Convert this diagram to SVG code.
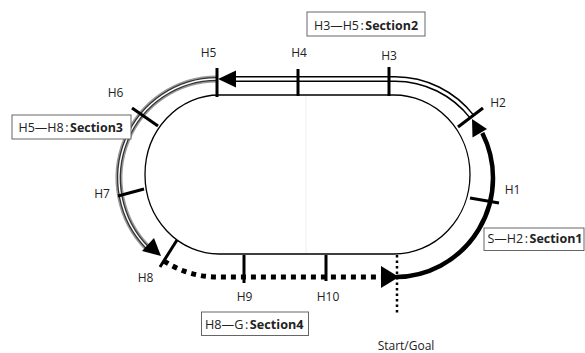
<svg xmlns="http://www.w3.org/2000/svg" width="585" height="353" viewBox="0 0 585 353">
<style>
text{font-family:"Open Sans","Noto Sans","Liberation Sans",sans-serif;font-size:12px;fill:#222}
.lbl{text-anchor:middle}
.b{font-weight:bold}
.tick{stroke:#000;stroke-width:3;fill:none}
.box{fill:#fff;stroke:#666;stroke-width:1}
</style>
<rect width="585" height="353" fill="#fff"/>
<g id="track">
<line x1="306" y1="96" x2="306" y2="253" stroke="#eeeeee" stroke-width="1"/>
<path d="M219 95 H394 A76 79.5 0 0 1 470 174.5 A76 79.5 0 0 1 394 254 H219 A74 79.5 0 0 1 145 174.5 A74 79.5 0 0 1 219 95 Z" fill="none" stroke="#000" stroke-width="1.3"/>
</g>
<g id="connectors">
<g id="section2-line">
<path d="M472.2 117 A98 99 0 0 0 395 79 H234" fill="none" stroke="#000" stroke-width="6"/>
<path d="M472.2 117 A98 99 0 0 0 395 79 H234" fill="none" stroke="#fff" stroke-width="3"/>
<polygon points="218,79 236,70.5 236,87.5" fill="#000"/>
</g>
<g id="section3-line">
<path d="M217 79 A98 99 0 0 0 147.7 248" fill="none" stroke="#999" stroke-width="7"/>
<path d="M217 79 A98 99 0 0 0 147.7 248" fill="none" stroke="#333" stroke-width="4"/>
<path d="M217 79 A98 99 0 0 0 147.7 248" fill="none" stroke="#fff" stroke-width="1.4"/>
<polygon points="161,256 142,251 154,238" fill="#000"/>
</g>
<g id="section1-line">
<path d="M396 277 A98 99 0 0 0 482.3 133" fill="none" stroke="#000" stroke-width="4.5"/>
<polygon points="472,119 472.5,137.5 487,129" fill="#000"/>
</g>
<g id="section4-line">
<path d="M164 261 A98 99 0 0 0 217 277 H382" fill="none" stroke="#000" stroke-width="5" stroke-dasharray="5 5"/>
<polygon points="399,277 381,266 381,288" fill="#000"/>
</g>
<line id="start-goal-line" x1="397" y1="255" x2="397" y2="313" stroke="#000" stroke-width="2.5" stroke-dasharray="2.5 3"/>
</g>
<g id="H1"><line class="tick" x1="470" y1="198" x2="499" y2="203"/><text class="lbl" x="512.5" y="194">H1</text></g>
<g id="H2"><line class="tick" x1="458" y1="127" x2="483" y2="108"/><text class="lbl" x="498" y="107">H2</text></g>
<g id="H3"><line class="tick" x1="389" y1="67" x2="389" y2="96"/><text class="lbl" x="389" y="60">H3</text></g>
<g id="H4"><line class="tick" x1="298" y1="69" x2="298" y2="96"/><text class="lbl" x="299" y="57">H4</text></g>
<g id="H5"><line class="tick" x1="217" y1="68" x2="217" y2="97"/><text class="lbl" x="208.5" y="57">H5</text></g>
<g id="H6"><line class="tick" x1="132" y1="108" x2="158" y2="126"/><text class="lbl" x="115.5" y="97">H6</text></g>
<g id="H7"><line class="tick" x1="118" y1="196" x2="144" y2="189"/><text class="lbl" x="102" y="198">H7</text></g>
<g id="H8"><line class="tick" x1="160" y1="267" x2="177" y2="240"/><text class="lbl" x="145.5" y="282">H8</text></g>
<g id="H9"><line class="tick" x1="244" y1="255" x2="244" y2="283"/><text class="lbl" x="244.5" y="301">H9</text></g>
<g id="H10"><line class="tick" x1="326" y1="255" x2="326" y2="281"/><text class="lbl" x="328" y="300.5">H10</text></g>
<g id="start-goal"><text class="lbl" x="406" y="350">Start/Goal</text></g>
<g id="label-section2"><rect class="box" x="307" y="12" width="118" height="24"/><text x="314" y="29.5" textLength="104" lengthAdjust="spacingAndGlyphs">H3—H5<tspan dx="1.5">:</tspan><tspan class="b" dx="1.5">Section2</tspan></text></g>
<g id="label-section3"><rect class="box" x="12" y="115" width="119" height="24"/><text x="18.5" y="132" textLength="104.5" lengthAdjust="spacingAndGlyphs">H5—H8<tspan dx="1.5">:</tspan><tspan class="b" dx="1.5">Section3</tspan></text></g>
<g id="label-section4"><rect class="box" x="201.5" y="312" width="107" height="23.5"/><text x="205" y="329" textLength="98.5" lengthAdjust="spacingAndGlyphs">H8—G<tspan dx="1.5">:</tspan><tspan class="b" dx="1.5">Section4</tspan></text></g>
<g id="label-section1"><rect class="box" x="484" y="228" width="100" height="22.5"/><text x="487.5" y="243" textLength="95" lengthAdjust="spacingAndGlyphs">S—H2<tspan dx="1.5">:</tspan><tspan class="b" dx="1.5">Section1</tspan></text></g>
</svg>
